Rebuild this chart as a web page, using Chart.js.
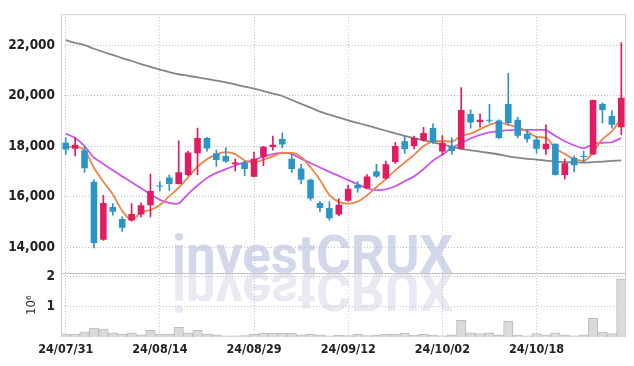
<!DOCTYPE html>
<html>
<head>
<meta charset="utf-8">
<script src="https://cdn.jsdelivr.net/npm/chart.js@4.4.1/dist/chart.umd.min.js"></script>
<style>
  html, body { margin: 0; padding: 0; background: #fff; }
</style>
</head>
<body>
<canvas id="chart" width="634" height="366"></canvas>
<script>
// daily candles, 24/07/31 .. 24/10/31
const dates = ['24/07/31','24/08/01','24/08/02','24/08/05','24/08/06','24/08/07','24/08/08','24/08/09','24/08/12','24/08/13',
  '24/08/14','24/08/16','24/08/19','24/08/20','24/08/21','24/08/22','24/08/23','24/08/26','24/08/27','24/08/28',
  '24/08/29','24/08/30','24/09/02','24/09/03','24/09/04','24/09/05','24/09/06','24/09/09','24/09/10','24/09/11',
  '24/09/12','24/09/13','24/09/19','24/09/20','24/09/23','24/09/24','24/09/25','24/09/26','24/09/27','24/09/30',
  '24/10/02','24/10/04','24/10/07','24/10/08','24/10/10','24/10/11','24/10/14','24/10/15','24/10/16','24/10/17',
  '24/10/18','24/10/21','24/10/22','24/10/23','24/10/24','24/10/25','24/10/28','24/10/29','24/10/30','24/10/31'];

const open  = [18140,17900,17840,16600,14300,15600,15120,15060,15300,15670,
  16430,16770,16510,16860,17720,18330,17720,17620,17290,17360,
  16800,17580,17970,18290,17510,17120,16680,15760,15560,15300,
  15850,16470,16340,17010,16730,17380,18200,18010,18240,18720,
  17790,18010,17900,19280,18960,19030,19020,19670,19050,18500,
  18270,17880,18100,16860,17550,17600,17680,19670,19200,18750];
const high  = [18330,18330,18010,16680,16060,15730,15210,15730,15760,16900,
  16600,16860,18220,17810,18720,18350,17850,17940,17490,17420,
  17770,18000,18400,18530,17680,17290,16700,15820,15800,15930,
  16470,16600,16880,17290,17420,18160,18400,18400,18750,18890,
  18420,18330,20320,19440,19280,19660,19050,20890,19150,18660,
  18370,18850,18100,17490,17620,17810,19830,19720,19410,22100];
const low   = [17680,17620,16970,13980,14280,15280,14630,15040,15210,15210,
  16230,16250,16500,16840,16880,17810,17200,17360,17030,16840,
  16790,17230,17850,17940,16970,16510,15860,15410,15080,15250,
  15820,16190,16330,16770,16700,17320,17720,17900,18200,18110,
  17680,17680,17890,18720,18760,18920,18290,18850,18330,18160,
  17720,17680,16860,16710,16990,17360,17680,18920,18720,18460];
const close = [17870,18060,17130,14170,15760,15410,14780,15320,15670,16230,
  16410,16510,16970,17750,18330,17910,17460,17400,17360,17100,
  17510,17980,18060,18070,17100,16680,15930,15560,15150,15690,
  16320,16340,16810,16810,17290,18010,17880,18330,18530,18160,
  18140,17810,19440,18940,19050,19010,18330,18920,18420,18290,
  17900,18100,16860,17330,17250,17580,19830,19440,18850,19920];

// moving averages
const ma5   = [17970,17980,17850,17150,16600,16100,15450,15090,15390,15480,
  15680,16030,16360,16770,17190,17490,17680,17770,17690,17440,
  17360,17470,17600,17740,17740,17580,17170,16670,16080,15800,
  15730,15810,16060,16390,16710,17050,17360,17660,18010,18180,
  18210,18190,18420,18500,18680,18850,18950,18850,18750,18590,
  18370,18330,17920,17700,17490,17420,17770,18280,18590,19120];
const ma20  = [18500,18330,18010,17550,17300,17050,16810,16580,16340,16100,
  15880,15760,15740,16120,16450,16750,16950,17100,17240,17360,
  17460,17590,17690,17750,17690,17510,17340,17160,16990,16830,
  16660,16500,16340,16270,16300,16420,16620,16810,17100,17430,
  17670,17940,18120,18310,18450,18550,18600,18640,18650,18650,
  18650,18640,18410,18200,18040,17920,18080,18140,18160,18330];
const maLong = [22200,22095,22000,21860,21730,21615,21490,21375,21255,21140,
  21030,20935,20850,20790,20725,20670,20595,20525,20445,20360,
  20280,20185,20085,19990,19830,19680,19530,19375,19255,19140,
  19025,18925,18825,18720,18615,18510,18415,18325,18235,18150,
  18080,17990,17895,17840,17790,17735,17675,17605,17550,17505,
  17475,17435,17395,17375,17365,17355,17375,17395,17420,17445];

const volume = [94000,94000,170000,290000,260000,140000,100000,140000,70000,220000,
  100000,100000,320000,140000,220000,100000,70000,40000,40000,50000,
  90000,130000,130000,130000,130000,70000,90000,70000,40000,60000,
  50000,90000,50000,60000,90000,100000,130000,60000,90000,60000,
  40000,70000,550000,140000,110000,140000,60000,520000,60000,40000,
  110000,70000,140000,70000,40000,70000,610000,160000,110000,1910000];

const priceTicks = [14000, 16000, 18000, 20000, 22000];
const volTicks = [1000000, 2000000];

const UP = '#e31b62';
const DOWN = '#2c95c8';
const candleColor = open.map((o, i) => close[i] >= o ? UP : DOWN);

const fontFamily = "'DejaVu Sans Condensed', 'DejaVu Sans', sans-serif";
const gridColor = '#bfc2da';

const watermarkAndFrame = {
  id: 'watermarkAndFrame',
  beforeDraw(chart) {
    const { ctx, chartArea: a, scales } = chart;
    const base = scales.y.bottom;
    ctx.save();
    ctx.font = 'bold 53px Roboto, sans-serif';
    ctx.textBaseline = 'alphabetic';
    ctx.fillStyle = '#d2d7ea';
    ctx.fillText('investCRUX', a.left + 111, base);
    ctx.translate(0, base * 2);
    ctx.scale(1, -1);
    ctx.fillStyle = '#e8e9f1';
    ctx.fillText('investCRUX', a.left + 111, base);
    ctx.restore();
  },
  afterDraw(chart) {
    const { ctx, chartArea: a, scales } = chart;
    ctx.save();
    ctx.strokeStyle = '#cfcfcf';
    ctx.lineWidth = 1;
    ctx.beginPath();
    ctx.moveTo(a.left + 0.5, a.bottom);
    ctx.lineTo(a.left + 0.5, a.top + 0.5);
    ctx.lineTo(a.right - 0.5, a.top + 0.5);
    ctx.lineTo(a.right - 0.5, a.bottom);
    ctx.stroke();
    const sy = Math.round(scales.y.bottom) + 0.5;
    ctx.strokeStyle = '#c4c4c4';
    ctx.beginPath();
    ctx.moveTo(a.left, sy);
    ctx.lineTo(a.right, sy);
    ctx.stroke();
    ctx.restore();
  }
};

new Chart(document.getElementById('chart'), {
  data: {
    labels: dates,
    datasets: [
      {
        type: 'bar',
        data: dates.map((_, i) => [open[i], close[i]]),
        backgroundColor: candleColor,
        barPercentage: 0.7,
        categoryPercentage: 1,
        minBarLength: 1,
        grouped: false,
        yAxisID: 'y',
        order: 0
      },
      {
        type: 'bar',
        data: dates.map((_, i) => [low[i], high[i]]),
        backgroundColor: candleColor,
        barThickness: 1,
        grouped: false,
        yAxisID: 'y',
        order: 1
      },
      {
        type: 'line',
        data: ma5,
        borderColor: '#ef8447',
        borderWidth: 1.8,
        pointRadius: 0,
        cubicInterpolationMode: 'monotone',
        yAxisID: 'y',
        order: 2
      },
      {
        type: 'line',
        data: ma20,
        borderColor: '#cc55ea',
        borderWidth: 1.8,
        pointRadius: 0,
        tension: 0.15,
        yAxisID: 'y',
        order: 3
      },
      {
        type: 'line',
        data: maLong,
        borderColor: '#858585',
        borderWidth: 1.8,
        pointRadius: 0,
        cubicInterpolationMode: 'monotone',
        yAxisID: 'y',
        order: 4
      },
      {
        type: 'bar',
        data: volume,
        backgroundColor: '#dadada',
        borderColor: '#bdbdbd',
        borderWidth: 1,
        barPercentage: 1,
        categoryPercentage: 1,
        grouped: false,
        yAxisID: 'yv',
        order: 5
      }
    ]
  },
  options: {
    responsive: false,
    animation: false,
    devicePixelRatio: 1,
    layout: { padding: { top: 9, right: 8, left: 0, bottom: 0 } },
    plugins: { legend: { display: false }, tooltip: { enabled: false } },
    scales: {
      x: {
        type: 'category',
        offset: true,
        grid: { color: gridColor, drawTicks: false, offset: false },
        border: { display: false, dash: [1, 2] },
        ticks: {
          autoSkip: false,
          maxRotation: 0,
          padding: 5,
          color: '#222',
          font: { family: fontFamily, size: 12.5, weight: 'bold' },
          callback: (v, i) => (i % 10 === 0 ? dates[i] : null)
        },
        afterFit: (s) => { s.height = 29; }
      },
      // volume pane listed first so it stacks under the price pane
      yv: {
        type: 'linear',
        position: 'left',
        stack: 'panes',
        stackWeight: 1,
        min: 0,
        max: 2090000,
        grid: { color: gridColor, drawTicks: false },
        border: { display: false, dash: [1, 2] },
        afterBuildTicks: (s) => { s.ticks = volTicks.map(v => ({ value: v })); },
        ticks: {
          padding: 6,
          color: '#222',
          font: { family: fontFamily, size: 13.5, weight: 'bold' },
          callback: (v) => String(v / 1000000)
        },
        title: {
          display: true,
          text: '10⁶',
          color: '#333',
          font: { family: fontFamily, size: 13 },
          padding: { top: 24, bottom: 0 }
        },
        afterFit: (s) => { s.width = 61; }
      },
      y: {
        type: 'linear',
        position: 'left',
        stack: 'panes',
        stackWeight: 4.08,
        min: 12970,
        max: 23230,
        grid: { color: gridColor, drawTicks: false },
        border: { display: false, dash: [1, 2] },
        afterBuildTicks: (s) => { s.ticks = priceTicks.map(v => ({ value: v })); },
        ticks: {
          padding: 6,
          color: '#222',
          font: { family: fontFamily, size: 13.5, weight: 'bold' },
          callback: (v) => v.toLocaleString('en-US')
        },
        afterFit: (s) => { s.width = 61; }
      }
    }
  },
  plugins: [watermarkAndFrame]
});
</script>
</body>
</html>
